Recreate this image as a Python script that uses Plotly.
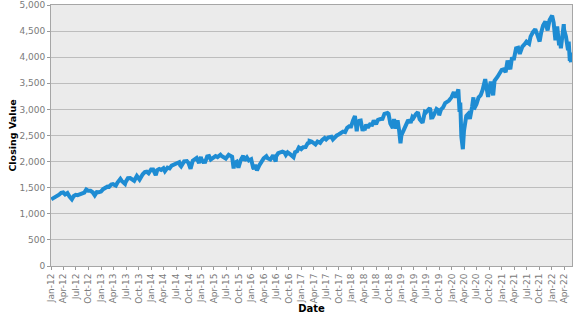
import plotly.graph_objects as go

dates = [
"2012-01-03","2012-01-13","2012-01-31","2012-02-15","2012-02-29","2012-03-15","2012-03-30","2012-04-13","2012-04-30","2012-05-15","2012-06-01","2012-06-15","2012-06-29","2012-07-13","2012-07-31","2012-08-15","2012-08-31","2012-09-14","2012-09-28","2012-10-15","2012-10-31","2012-11-15","2012-11-30","2012-12-14","2012-12-31",
"2013-01-15","2013-01-31","2013-02-15","2013-02-28","2013-03-15","2013-03-28","2013-04-18","2013-04-30","2013-05-21","2013-05-31","2013-06-24","2013-06-28","2013-07-15","2013-07-31","2013-08-15","2013-08-30","2013-09-18","2013-09-30","2013-10-08","2013-10-31","2013-11-15","2013-11-29","2013-12-13","2013-12-31",
"2014-01-15","2014-02-03","2014-02-14","2014-02-28","2014-03-14","2014-03-31","2014-04-11","2014-04-30","2014-05-15","2014-05-30","2014-06-13","2014-06-30","2014-07-24","2014-07-31","2014-08-07","2014-08-29","2014-09-18","2014-09-30","2014-10-15","2014-10-31","2014-11-14","2014-11-28","2014-12-16","2014-12-29","2014-12-31",
"2015-01-15","2015-01-30","2015-02-13","2015-02-27","2015-03-11","2015-03-31","2015-04-15","2015-04-30","2015-05-21","2015-05-29","2015-06-15","2015-06-29","2015-07-20","2015-07-31","2015-08-14","2015-08-25","2015-08-31","2015-09-16","2015-09-29","2015-10-15","2015-10-30","2015-11-03","2015-11-13","2015-11-30","2015-12-14","2015-12-31",
"2016-01-15","2016-01-20","2016-01-29","2016-02-11","2016-02-29","2016-03-15","2016-03-31","2016-04-20","2016-04-29","2016-05-19","2016-05-31","2016-06-08","2016-06-27","2016-06-30","2016-07-15","2016-07-29","2016-08-15","2016-08-31","2016-09-09","2016-09-22","2016-09-30","2016-10-14","2016-11-04","2016-11-15","2016-11-30","2016-12-13","2016-12-30",
"2017-01-13","2017-01-31","2017-02-15","2017-02-28","2017-03-01","2017-03-15","2017-03-31","2017-04-13","2017-04-28","2017-05-17","2017-05-31","2017-06-19","2017-06-30","2017-07-14","2017-07-31","2017-08-08","2017-08-18","2017-08-31","2017-09-15","2017-09-29","2017-10-13","2017-10-31","2017-11-15","2017-11-30","2017-12-15","2017-12-29",
"2018-01-12","2018-01-26","2018-02-08","2018-02-15","2018-02-26","2018-03-09","2018-03-23","2018-03-30","2018-04-06","2018-04-18","2018-04-30","2018-05-15","2018-05-31","2018-06-12","2018-06-29","2018-07-13","2018-07-31","2018-08-15","2018-08-29","2018-09-20","2018-09-28","2018-10-11","2018-10-29","2018-10-31","2018-11-07","2018-11-23","2018-11-30","2018-12-03","2018-12-14","2018-12-24","2018-12-31",
"2019-01-15","2019-01-31","2019-02-15","2019-02-28","2019-03-08","2019-03-21","2019-03-29","2019-04-15","2019-04-30","2019-05-13","2019-05-31","2019-06-03","2019-06-20","2019-06-28","2019-07-26","2019-07-31","2019-08-05","2019-08-15","2019-08-30","2019-09-13","2019-09-30","2019-10-02","2019-10-15","2019-10-31","2019-11-15","2019-11-29","2019-12-13","2019-12-31",
"2020-01-17","2020-01-31","2020-02-19","2020-02-28","2020-03-04","2020-03-12","2020-03-16","2020-03-23","2020-03-31","2020-04-08","2020-04-17","2020-04-30","2020-05-13","2020-05-29","2020-06-08","2020-06-11","2020-06-30","2020-07-15","2020-07-31","2020-08-14","2020-09-02","2020-09-23","2020-09-30","2020-10-12","2020-10-30","2020-11-09","2020-11-30","2020-12-15","2020-12-31",
"2021-01-15","2021-01-29","2021-02-12","2021-02-26","2021-03-04","2021-03-15","2021-03-31","2021-04-15","2021-04-30","2021-05-12","2021-05-31","2021-06-15","2021-06-30","2021-07-19","2021-07-30","2021-08-16","2021-08-31","2021-09-02","2021-09-17","2021-09-30","2021-10-04","2021-10-15","2021-10-29","2021-11-15","2021-11-30","2021-12-01","2021-12-15","2021-12-31",
"2022-01-03","2022-01-14","2022-01-27","2022-01-31","2022-02-09","2022-02-23","2022-02-28","2022-03-08","2022-03-29","2022-03-31","2022-04-14","2022-04-29","2022-05-04","2022-05-12","2022-05-17","2022-05-20",
]

closing = [
1277,1289,1312,1343,1366,1402,1408,1370,1398,1330,1278,1343,1362,1356,1379,1405,1406,1465,1441,1440,1412,1353,1416,1413,1426,
1472,1498,1520,1515,1561,1569,1541,1598,1669,1631,1573,1606,1682,1686,1661,1633,1725,1682,1656,1757,1798,1806,1775,1848,
1848,1742,1838,1859,1841,1872,1815,1884,1870,1924,1936,1960,1988,1931,1910,2003,2011,1972,1862,2018,2039,2068,1972,2091,2059,
1993,1995,2097,2105,2040,2068,2107,2086,2131,2107,2084,2058,2129,2104,2092,1868,1972,1996,1884,2023,2079,2110,2023,2080,2021,2044,
1880,1859,1940,1829,1932,2015,2060,2102,2065,2040,2097,2119,2001,2099,2162,2174,2190,2171,2128,2177,2168,2133,2085,2180,2199,2271,2239,
2275,2279,2350,2364,2396,2385,2363,2329,2384,2357,2412,2453,2423,2459,2470,2474,2426,2472,2500,2519,2553,2575,2565,2648,2676,2674,
2786,2873,2581,2732,2780,2786,2588,2641,2604,2708,2648,2711,2705,2787,2718,2801,2816,2818,2914,2931,2914,2728,2641,2712,2814,2633,2760,2790,2600,2351,2507,
2610,2704,2776,2784,2743,2855,2834,2906,2946,2812,2752,2744,2954,2942,3026,2980,2844,2848,2926,3007,2977,2887,2996,3038,3120,3141,3169,3231,
3330,3226,3386,2954,3130,2481,2386,2237,2585,2750,2875,2912,2820,3044,3232,3002,3100,3227,3271,3373,3580,3237,3363,3534,3270,3550,3622,3695,3756,
3768,3714,3934,3811,3768,3969,3973,4170,4181,4063,4204,4246,4298,4258,4395,4479,4523,4537,4433,4308,4300,4471,4605,4682,4567,4513,4709,4766,
4797,4663,4326,4516,4587,4226,4374,4170,4632,4530,4393,4132,4300,3930,4088,3901,
]

y_ticks = [0, 500, 1000, 1500, 2000, 2500, 3000, 3500, 4000, 4500, 5000]

fig = go.Figure()
fig.add_trace(go.Scatter(
    x=dates, y=closing, mode="lines",
    line=dict(color="#1E8CD3", width=4),
    showlegend=False,
))

fig.update_layout(
    width=577, height=315,
    margin=dict(l=51, r=5, t=5, b=49),
    paper_bgcolor="white",
    plot_bgcolor="#EBEBEB",
    font=dict(family="DejaVu Sans", size=9, color="#7A7A7A"),
)
fig.update_xaxes(
    type="date", automargin=False,
    range=["2012-01-01", "2022-05-28"],
    tick0="2012-01-01", dtick="M3", tickformat="%b-%y", tickangle=-90,
    ticks="outside", ticklen=3, tickcolor="#999999",
    showgrid=False, showline=True, linecolor="#A6A6A6", linewidth=1, mirror=True,
    title=dict(text="<b>Date</b>", font=dict(size=10, color="#000000"), standoff=0),
)
fig.update_yaxes(
    automargin=False,
    range=[0, 5000], tickvals=y_ticks, tickformat=",",
    ticks="outside", ticklen=3, tickcolor="#999999",
    showgrid=True, gridcolor="#BDBDBD", gridwidth=1,
    showline=True, linecolor="#A6A6A6", linewidth=1, mirror=True,
    zeroline=False,
    title=dict(text="<b>Closing Value</b>", font=dict(size=9.5, color="#000000"), standoff=1),
)

fig.write_html("out.html")
